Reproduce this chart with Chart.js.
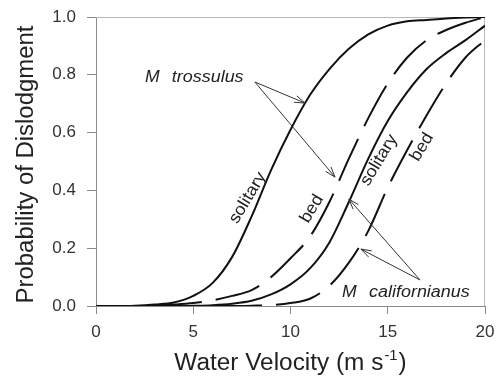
<!DOCTYPE html>
<html>
<head>
<meta charset="utf-8">
<script src="https://cdn.jsdelivr.net/npm/chart.js@4.4.1/dist/chart.umd.min.js"></script>
<style>
    body { margin: 0; background: #fff; }
    canvas { display: block; }
</style>
</head>
<body>
<canvas id="dislodgeChart" width="497" height="377"></canvas>
<script>
// water velocity (m/s) and probability
const velocity = [0, 1, 2, 3, 4, 5, 6, 7, 8, 9, 10, 11, 12, 13, 14, 15, 16, 17, 18, 19, 20];
const trossulusSolitary = [0, 0, 0.001, 0.005, 0.012, 0.035, 0.08, 0.17, 0.31, 0.47, 0.61, 0.73, 0.82, 0.89, 0.94, 0.97, 0.985, 0.99, 0.995, 0.998, 1.0];
const trossulusBed = [0, 0, 0, 0.002, 0.005, 0.01, 0.02, 0.035, 0.055, 0.10, 0.165, 0.24, 0.36, 0.51, 0.65, 0.77, 0.86, 0.92, 0.955, 0.98, 1.0];
const californianusSolitary = [0, 0, 0, 0, 0, 0.001, 0.003, 0.008, 0.018, 0.04, 0.075, 0.13, 0.22, 0.36, 0.51, 0.64, 0.74, 0.82, 0.875, 0.92, 0.97];
const californianusBed = [0, 0, 0, 0, 0, 0, 0, 0, 0.001, 0.003, 0.01, 0.025, 0.07, 0.15, 0.26, 0.41, 0.54, 0.66, 0.77, 0.86, 0.92];
const xTicks = [0, 5, 10, 15, 20];
const yTicks = [0, 0.2, 0.4, 0.6, 0.8, 1.0];

function toPoints(values) {
    return velocity.map((v, i) => ({x: v, y: values[i]}));
}

function drawText(c, text, x, y, font, opts) {
    opts = opts || {};
    c.save();
    c.translate(x, y);
    c.rotate(opts.rot || 0);
    c.scale(opts.sx || 1, 1);
    c.font = font;
    c.fillStyle = opts.color || '#222';
    c.textAlign = opts.align || 'left';
    c.textBaseline = opts.baseline || 'alphabetic';
    c.fillText(text, 0, 0);
    c.restore();
}

function drawArrow(c, x1, y1, x2, y2) {
    const ang = Math.atan2(y2 - y1, x2 - x1);
    const len = 11, spread = 0.32;
    c.beginPath();
    c.moveTo(x1, y1);
    c.lineTo(x2, y2);
    c.moveTo(x2 - len * Math.cos(ang - spread), y2 - len * Math.sin(ang - spread));
    c.lineTo(x2, y2);
    c.lineTo(x2 - len * Math.cos(ang + spread), y2 - len * Math.sin(ang + spread));
    c.stroke();
}

const framePlugin = {
    id: 'frame',
    beforeDatasetsDraw(chart) {
        const c = chart.ctx, a = chart.chartArea;
        c.save();
        c.strokeStyle = '#b8b8b8';
        c.lineWidth = 1;
        c.beginPath();
        c.moveTo(a.left, a.top + 0.5);
        c.lineTo(a.right - 0.5, a.top + 0.5);
        c.lineTo(a.right - 0.5, a.bottom);
        c.stroke();
        c.restore();
    }
};

const notesPlugin = {
    id: 'notes',
    afterDraw(chart) {
        const c = chart.ctx;
        const xs = chart.scales.x, ys = chart.scales.y;
        const px = v => xs.getPixelForValue(v);
        const py = v => ys.getPixelForValue(v);
        const italic = 'italic 16px "Liberation Sans", Arial, sans-serif';
        const plain = '17px "Liberation Sans", Arial, sans-serif';

        // species names
        drawText(c, 'M', px(2.52), py(0.775), italic, {sx: 1.1});
        drawText(c, 'trossulus', px(3.9), py(0.775), italic, {sx: 1.12});
        drawText(c, 'M', px(12.65), py(0.031), italic, {sx: 1.1});
        drawText(c, 'californianus', px(14.04), py(0.031), italic, {sx: 1.12});

        // curve labels
        const r = -59 * Math.PI / 180;
        drawText(c, 'solitary', px(7.8), py(0.374), plain, {rot: r, sx: 1.05, align: 'center', baseline: 'middle'});
        drawText(c, 'bed', px(11.1), py(0.336), plain, {rot: r, sx: 1.05, align: 'center', baseline: 'middle'});
        drawText(c, 'solitary', px(14.55), py(0.505), plain, {rot: r, sx: 1.05, align: 'center', baseline: 'middle'});
        drawText(c, 'bed', px(16.76), py(0.55), plain, {rot: r, sx: 1.05, align: 'center', baseline: 'middle'});

        // arrows
        c.save();
        c.strokeStyle = '#333';
        c.lineWidth = 1;
        drawArrow(c, px(8.17), py(0.775), px(10.75), py(0.702));
        drawArrow(c, px(8.17), py(0.775), px(12.29), py(0.446));
        drawArrow(c, px(16.66), py(0.09), px(13.0), py(0.37));
        drawArrow(c, px(16.66), py(0.09), px(13.62), py(0.197));
        c.restore();

        // axis titles
        const a = chart.chartArea;
        const titleFont = '23px "Liberation Sans", Arial, sans-serif';
        drawText(c, 'Probability of Dislodgment', 33, (a.top + a.bottom) / 2 + 3, titleFont,
                 {rot: -Math.PI / 2, sx: 1.04, align: 'center'});

        c.save();
        c.font = titleFont;
        const sx = 1.06;
        const partA = 'Water Velocity (m s';
        const wA = c.measureText(partA).width * sx;
        c.font = '14px "Liberation Sans", Arial, sans-serif';
        const wSup = c.measureText('-1').width * sx;
        c.font = titleFont;
        const wB = c.measureText(')').width * sx;
        c.restore();
        let x0 = (a.left + a.right) / 2 - (wA + wSup + wB + 2) / 2;
        const base = 370;
        drawText(c, partA, x0, base, titleFont, {sx: sx});
        drawText(c, '-1', x0 + wA + 1, base - 10, '14px "Liberation Sans", Arial, sans-serif', {sx: sx});
        drawText(c, ')', x0 + wA + wSup + 2, base, titleFont, {sx: sx});
    }
};

const dislodgeCtx = document.getElementById('dislodgeChart').getContext('2d');
const dislodgeChart = new Chart(dislodgeCtx, {
    type: 'line',
    data: {
        datasets: [{
                label: 'M. trossulus solitary',
                data: toPoints(trossulusSolitary),
                borderColor: '#111',
                borderWidth: 2,
                pointRadius: 0,
                cubicInterpolationMode: 'monotone'
            }, {
                label: 'M. trossulus bed',
                data: toPoints(trossulusBed),
                borderColor: '#111',
                borderWidth: 2,
                borderDash: [46, 14],
                pointRadius: 0,
                cubicInterpolationMode: 'monotone'
            }, {
                label: 'M. californianus solitary',
                data: toPoints(californianusSolitary),
                borderColor: '#111',
                borderWidth: 2,
                pointRadius: 0,
                cubicInterpolationMode: 'monotone'
            }, {
                label: 'M. californianus bed',
                data: toPoints(californianusBed),
                borderColor: '#111',
                borderWidth: 2,
                borderDash: [46, 14],
                pointRadius: 0,
                cubicInterpolationMode: 'monotone'
            }]
    },
    options: {
        responsive: false,
        animation: false,
        layout: {
            padding: {top: 17, right: 12, left: 0, bottom: 0}
        },
        scales: {
            x: {
                type: 'linear',
                min: 0,
                max: 20,
                afterFit: scale => {
                    scale.height = 71;
                    scale.paddingLeft = 0;
                    scale.paddingRight = 0;
                },
                afterBuildTicks: scale => { scale.ticks = xTicks.map(v => ({value: v})); },
                border: {display: true, color: '#8a8a8a', width: 1},
                grid: {drawOnChartArea: false, drawTicks: true, tickLength: 8, color: '#8a8a8a'},
                ticks: {
                    padding: 8,
                    color: '#333',
                    font: {size: 17, family: '"Liberation Sans", Arial, sans-serif'}
                }
            },
            y: {
                min: 0,
                max: 1,
                afterFit: scale => {
                    scale.width = 96;
                    scale.paddingTop = 0;
                    scale.paddingBottom = 0;
                },
                afterBuildTicks: scale => { scale.ticks = yTicks.map(v => ({value: v})); },
                border: {display: true, color: '#8a8a8a', width: 1},
                grid: {drawOnChartArea: false, drawTicks: true, tickLength: 9, color: '#8a8a8a'},
                ticks: {
                    padding: 11,
                    color: '#333',
                    font: {size: 17, family: '"Liberation Sans", Arial, sans-serif'},
                    callback: v => v.toFixed(1)
                }
            }
        },
        plugins: {
            legend: {display: false},
            tooltip: {enabled: false}
        }
    },
    plugins: [framePlugin, notesPlugin]
});
</script>
</body>
</html>
